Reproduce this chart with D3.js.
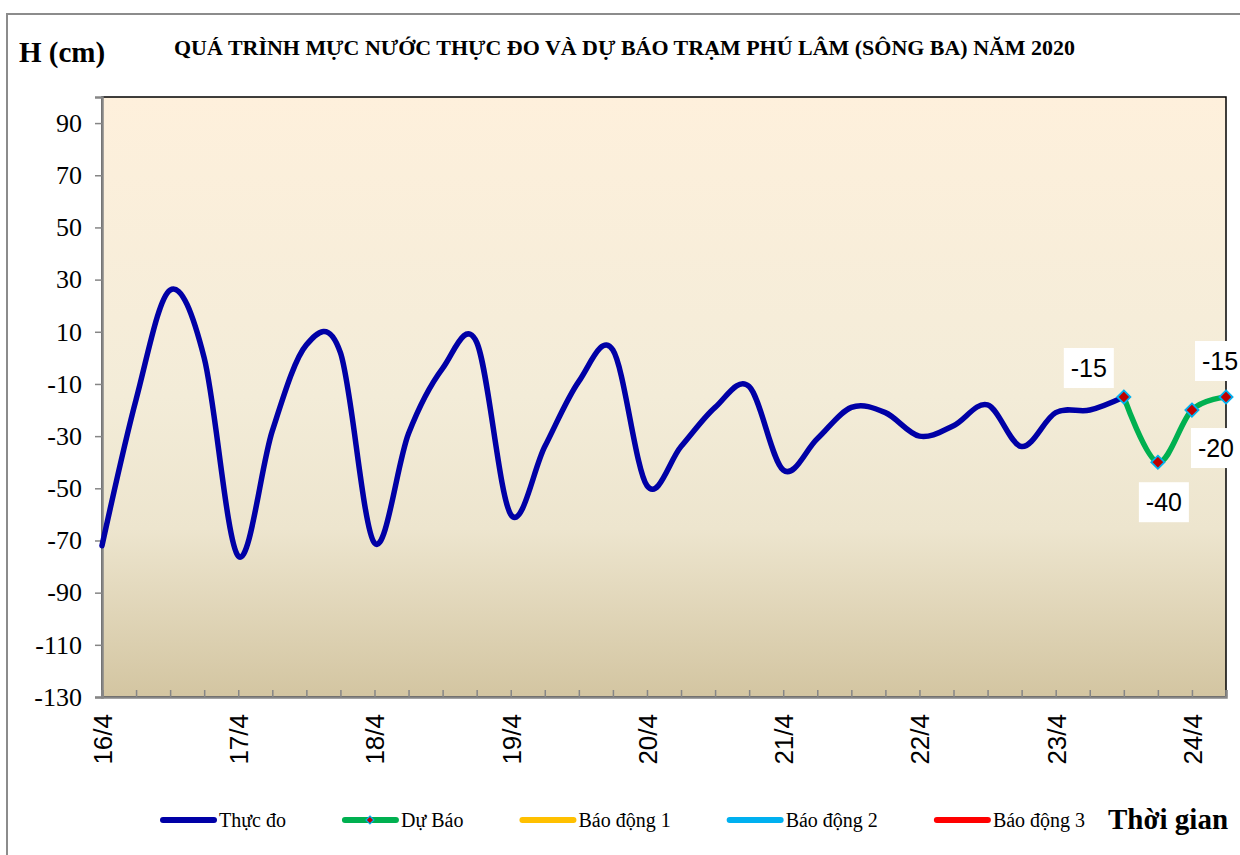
<!DOCTYPE html>
<html>
<head>
<meta charset="utf-8">
<script src="https://cdn.jsdelivr.net/npm/d3@7"></script>
<style>
	body { margin: 0; background: #fff; }
</style>
</head>
<body>
<svg id="chart" width="1240" height="855"></svg>
<script>
// observed water level (every 6 hours)
var obsTimes = [
	"16/4 00", "16/4 06", "16/4 12", "16/4 18",
	"17/4 00", "17/4 06", "17/4 12", "17/4 18",
	"18/4 00", "18/4 06", "18/4 12", "18/4 18",
	"19/4 00", "19/4 06", "19/4 12", "19/4 18",
	"20/4 00", "20/4 06", "20/4 12", "20/4 18",
	"21/4 00", "21/4 06", "21/4 12", "21/4 18",
	"22/4 00", "22/4 06", "22/4 12", "22/4 18",
	"23/4 00", "23/4 06", "23/4 12"
];
var obsValues = [
	-72, -16, 26, 0,
	-76, -28, 5, 2,
	-71, -29, -4, 6,
	-60, -34, -9, 3,
	-49, -34, -19, -11,
	-43, -31, -19, -21,
	-30, -26, -18, -34,
	-21, -20, -15
];
// forecast
var fcTimes = ["23/4 12", "23/4 18", "24/4 00", "24/4 06"];
var fcValues = [-15, -40, -20, -15];

var yTicks = [-130, -110, -90, -70, -50, -30, -10, 10, 30, 50, 70, 90];
var dayLabels = ["16/4", "17/4", "18/4", "19/4", "20/4", "21/4", "22/4", "23/4", "24/4"];

var legendNames = ["Thực đo", "Dự Báo", "Báo động 1", "Báo động 2", "Báo động 3"];
var legendColors = ["#0000A6", "#00B050", "#FFC000", "#00B0F0", "#FF0000"];

var margin = { top: 97, left: 102 },
	width = 1124,
	height = 600;

var parse = d3.timeParse("%d/%m %H");
var svg = d3.select("#chart");

// outer chart border
svg.append("rect")
	.attr("x", 7).attr("y", 14)
	.attr("width", 1260).attr("height", 880)
	.attr("fill", "#fff")
	.attr("stroke", "#8c8c8c")
	.attr("stroke-width", 2);

// background gradient of plot area
var grad = svg.append("defs").append("linearGradient")
	.attr("id", "bg").attr("x1", 0).attr("y1", 0).attr("x2", 0).attr("y2", 1);
grad.append("stop").attr("offset", "0").attr("stop-color", "#FEF0DC");
grad.append("stop").attr("offset", "0.5").attr("stop-color", "#F3ECD8");
grad.append("stop").attr("offset", "0.72").attr("stop-color", "#EDE5CE");
grad.append("stop").attr("offset", "1").attr("stop-color", "#D3C5A1");

var g = svg.append("g")
	.attr("transform", "translate(" + margin.left + "," + margin.top + ")");

g.append("rect")
	.attr("width", width).attr("height", height)
	.attr("fill", "url(#bg)")
	.attr("stroke", "#000")
	.attr("stroke-width", 1.5);

var x = d3.scaleTime()
	.domain([parse("16/4 00"), parse("24/4 06")])
	.range([0, width]);
var y = d3.scaleLinear().domain([-130, 100]).range([height, 0]);

// Y axis
var yAxis = g.append("g")
	.call(d3.axisLeft(y).tickValues(yTicks).tickSize(7).tickPadding(13)
		.tickFormat(function (d) { return String(d); }));
yAxis.select(".domain").attr("stroke", "#868686").attr("stroke-width", 2.5);
yAxis.selectAll(".tick line").attr("stroke", "#868686").attr("stroke-width", 1.5);
yAxis.selectAll("text")
	.attr("font-family", "Liberation Serif")
	.attr("font-size", 26)
	.attr("fill", "#000");

// X axis with 6-hour ticks pointing inwards
var xAxis = g.append("g")
	.attr("transform", "translate(0," + height + ")")
	.call(d3.axisBottom(x).ticks(d3.timeHour.every(6)).tickSize(-7).tickFormat(""));
xAxis.select(".domain").attr("stroke", "#868686").attr("stroke-width", 2.5);
xAxis.selectAll(".tick line").attr("stroke", "#868686").attr("stroke-width", 1.5);

// day labels
g.append("g")
	.selectAll("text")
	.data(dayLabels)
	.enter()
	.append("text")
	.attr("transform", function (d) {
		return "translate(" + (x(parse(d + " 00")) + 10) + "," + (height + 17) + ") rotate(-90)";
	})
	.attr("text-anchor", "end")
	.attr("font-family", "Liberation Sans")
	.attr("font-size", 26)
	.text(function (d) { return d; });

// lines
var line = d3.line()
	.x(function (d) { return x(parse(d[0])); })
	.y(function (d) { return y(d[1]); })
	.curve(d3.curveCardinal.tension(0));

var obs = d3.zip(obsTimes, obsValues);
var fc = d3.zip(fcTimes, fcValues);

g.append("path")
	.datum(obs)
	.attr("d", line)
	.attr("fill", "none")
	.attr("stroke", legendColors[0])
	.attr("stroke-width", 5.5)
	.attr("stroke-linecap", "round");

g.append("path")
	.datum(fc)
	.attr("d", line)
	.attr("fill", "none")
	.attr("stroke", legendColors[1])
	.attr("stroke-width", 5.5)
	.attr("stroke-linecap", "round");

var diamond = d3.symbol().type(d3.symbolDiamond2).size(110);

g.append("g")
	.selectAll("path")
	.data(fc)
	.enter()
	.append("path")
	.attr("d", diamond)
	.attr("transform", function (d) {
		return "translate(" + x(parse(d[0])) + "," + y(d[1]) + ")";
	})
	.attr("fill", "#C00000")
	.attr("stroke", "#00B0F0")
	.attr("stroke-width", 1.8);

// data labels on forecast points
var labelOffsets = [[-35, -29], [6, 40], [24, 38], [-6, -36]];
var labels = g.append("g")
	.selectAll("g")
	.data(fc)
	.enter()
	.append("g")
	.attr("transform", function (d, i) {
		return "translate(" + (x(parse(d[0])) + labelOffsets[i][0]) + "," + (y(d[1]) + labelOffsets[i][1]) + ")";
	});
labels.append("rect")
	.attr("x", -25).attr("y", -20)
	.attr("width", 50).attr("height", 40)
	.attr("fill", "#fff");
labels.append("text")
	.attr("text-anchor", "middle")
	.attr("dy", "0.36em")
	.attr("font-family", "Liberation Sans")
	.attr("font-size", 25)
	.text(function (d) { return d[1]; });

// titles
svg.append("text")
	.attr("x", 19).attr("y", 62)
	.attr("font-family", "Liberation Serif")
	.attr("font-weight", "bold")
	.attr("font-size", 29)
	.text("H (cm)");

svg.append("text")
	.attr("x", 174).attr("y", 55)
	.attr("font-family", "Liberation Serif")
	.attr("font-weight", "bold")
	.attr("font-size", 20)
	.attr("textLength", 901)
	.attr("lengthAdjust", "spacingAndGlyphs")
	.text("QUÁ TRÌNH MỰC NƯỚC THỰC ĐO VÀ DỰ BÁO TRẠM  PHÚ LÂM (SÔNG BA) NĂM 2020");

svg.append("text")
	.attr("x", 1108).attr("y", 829)
	.attr("font-family", "Liberation Serif")
	.attr("font-weight", "bold")
	.attr("font-size", 29)
	.text("Thời gian");

// legend
var lx = 160;
legendNames.forEach(function (name, i) {
	var item = svg.append("g").attr("transform", "translate(" + lx + ",820)");
	item.append("line")
		.attr("x1", 3).attr("x2", 54)
		.attr("stroke", legendColors[i])
		.attr("stroke-width", 6)
		.attr("stroke-linecap", "round");
	if (i == 1) {
		item.append("path")
			.attr("d", d3.symbol().type(d3.symbolDiamond2).size(40))
			.attr("transform", "translate(28,0)")
			.attr("fill", "#C00000")
			.attr("stroke", "#00B0F0")
			.attr("stroke-width", 1.2);
	}
	var t = item.append("text")
		.attr("x", 59).attr("y", 7)
		.attr("font-family", "Liberation Serif")
		.attr("font-size", 20)
		.text(name);
	lx += 59 + t.node().getComputedTextLength() + 56;
});
</script>
</body>
</html>
